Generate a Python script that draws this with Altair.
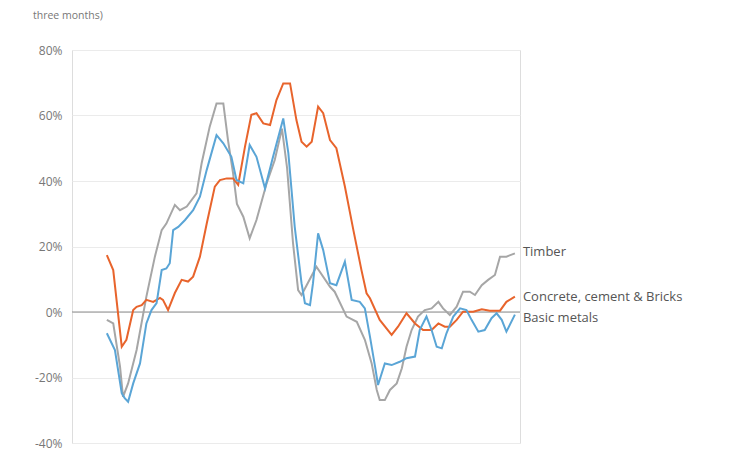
import altair as alt
import pandas as pd

concrete_t = [0, 1.5, 3.5, 4.6, 6.2, 7.0, 8.2, 9.3, 10.9, 12.5, 13.2, 14.4, 16.0, 17.6, 19.1, 20.3,
              21.9, 23.5, 25.4, 26.6, 28.2, 29.7, 30.9, 32.5, 34.0, 35.2, 36.8, 38.4, 39.9, 41.5,
              43.1, 44.6, 45.8, 47.0, 48.2, 49.7, 50.9, 52.5, 54.0, 56.0, 58.0, 59.9, 61.1, 61.9,
              64.2, 67.0, 68.5, 70.5, 72.5, 74.4, 76.4, 78.0, 79.5, 80.7, 82.3, 83.8, 86.2, 88.2,
              90.1, 92.5, 94.0, 96.0]
concrete_v = [17.4, 12.8, -10.6, -8.5, 0.6, 1.6, 2.1, 3.7, 3.1, 4.3, 3.7, 0.6, 5.8, 9.8, 9.3, 10.8,
              16.9, 27.0, 38.3, 40.3, 40.8, 40.8, 38.8, 50.5, 60.2, 60.7, 57.6, 57.1, 64.7, 69.8,
              69.8, 58.6, 52.0, 50.5, 52.0, 62.7, 60.7, 52.5, 50.0, 38.3, 25.0, 12.8, 5.7, 4.2,
              -2.4, -7.0, -4.5, -0.4, -3.5, -5.5, -5.5, -3.5, -4.5, -4.5, -2.4, 0.1, 0.1, 0.8,
              0.4, 0.4, 3.1, 4.7]

metals_t = [0, 1.9, 3.5, 4.2, 5.0, 6.2, 7.8, 9.3, 10.5, 11.7, 12.9, 14.0, 14.8, 15.6, 16.8, 18.4,
            20.3, 21.9, 23.5, 25.8, 27.4, 29.3, 30.5, 32.1, 33.6, 35.2, 37.2, 39.1, 41.5, 42.7,
            44.2, 45.8, 46.6, 47.8, 48.5, 49.7, 50.9, 52.5, 54.0, 56.0, 57.6, 59.5, 60.7, 61.9,
            63.1, 63.8, 65.4, 67.0, 68.9, 70.5, 72.5, 73.6, 75.2, 76.4, 77.6, 78.8, 79.9, 81.5,
            83.1, 84.6, 85.8, 87.4, 88.9, 90.5, 91.7, 92.9, 94.0, 96.0]
metals_v = [-6.5, -11.6, -24.8, -26.3, -27.4, -21.8, -15.7, -3.5, 0.6, 2.7, 12.8, 13.3, 14.9, 25.0,
            26.0, 28.1, 31.1, 35.2, 43.4, 54.0, 51.5, 47.4, 40.3, 39.3, 51.0, 47.4, 37.8, 47.4,
            59.1, 48.5, 26.0, 8.8, 2.7, 2.1, 8.8, 24.0, 18.9, 8.8, 8.2, 15.4, 3.7, 3.1, 1.1,
            -7.5, -16.7, -22.3, -15.7, -16.2, -15.2, -14.1, -13.6, -5.5, -1.4, -5.5, -10.6,
            -11.1, -6.5, -1.4, 1.1, 0.6, -2.4, -6.0, -5.5, -1.9, -0.4, -2.4, -6.0, -0.8]

timber_t = [0, 1.5, 3.1, 3.8, 5.0, 7.0, 9.3, 11.3, 12.9, 14.0, 16.0, 17.2, 18.8, 21.1, 22.3, 24.2,
            25.8, 27.4, 28.5, 29.7, 30.6, 32.1, 33.6, 35.2, 37.6, 39.5, 41.2, 42.4, 43.8, 45.0,
            45.8, 49.3, 52.5, 53.6, 56.4, 58.8, 60.7, 62.3, 63.5, 64.2, 65.4, 66.6, 68.2, 69.4,
            70.5, 71.7, 73.2, 74.8, 76.4, 78.0, 79.1, 80.7, 82.3, 83.8, 85.4, 86.6, 88.2, 89.7,
            91.3, 92.5, 94.0, 96.0]
timber_v = [-2.4, -3.5, -16.7, -25.9, -21.8, -11.6, 4.7, 16.9, 25.0, 27.0, 32.7, 31.1, 32.2, 36.2,
            45.4, 56.6, 63.7, 63.7, 52.5, 42.3, 33.0, 29.1, 22.5, 28.1, 39.3, 46.4, 56.0, 44.0,
            21.0, 6.7, 5.2, 13.8, 7.7, 6.2, -1.4, -3.0, -8.5, -15.7, -23.8, -26.9, -26.9, -23.8,
            -21.8, -17.2, -10.6, -5.5, -1.4, 0.6, 1.1, 3.1, 1.1, -0.9, 1.6, 6.2, 6.2, 5.2, 8.2,
            9.8, 11.3, 16.9, 16.9, 17.9]

series_names = ["Timber", "Concrete, cement & Bricks", "Basic metals"]
series_colors = ["#a6a6a6", "#e8642c", "#5aa5d6"]
label_values = [18.3, 4.6, -1.8]
y_ticks = [-40, -20, 0, 20, 40, 60, 80]
subtitle = "three months)"

rows = []
for name, ts, vs in [("Timber", timber_t, timber_v),
                     ("Concrete, cement & Bricks", concrete_t, concrete_v),
                     ("Basic metals", metals_t, metals_v)]:
    for t, v in zip(ts, vs):
        rows.append({"series": name, "t": t, "value": v})
df = pd.DataFrame(rows)

labels_df = pd.DataFrame({"series": series_names, "t": [96] * 3, "value": label_values})

x_scale = alt.Scale(domain=[-8.2, 97.2], nice=False, zero=False)
y_scale = alt.Scale(domain=[-40, 80], nice=False)
color_scale = alt.Scale(domain=series_names, range=series_colors)

base_y = alt.Y("value:Q", scale=y_scale,
               axis=alt.Axis(values=y_ticks, labelExpr="datum.value + '%'", grid=True,
                             gridColor="#ebebeb", gridWidth=1, domain=False, ticks=False,
                             labelPadding=10, labelFont="Open Sans", labelFontSize=12,
                             labelColor="#777777", title=None))

lines = alt.Chart(df).mark_line(strokeWidth=2, interpolate="linear").encode(
    x=alt.X("t:Q", scale=x_scale, axis=None),
    y=base_y,
    color=alt.Color("series:N", scale=color_scale, legend=None),
    detail="series:N",
)

zero = alt.Chart(pd.DataFrame({"z": [0]})).mark_rule(color="#8c8c8c", strokeWidth=1).encode(
    y=alt.Y("z:Q", scale=y_scale)
)

labels = alt.Chart(labels_df).mark_text(align="left", baseline="middle", dx=8, font="Open Sans",
                                        fontSize=13, color="#555555").encode(
    x=alt.X("t:Q", scale=x_scale),
    y=alt.Y("value:Q", scale=y_scale),
    text="series:N",
)

sub = alt.Chart(pd.DataFrame({"s": [subtitle]})).mark_text(
    align="left", baseline="middle", font="Open Sans", fontSize=10.5, color="#777777"
).encode(x=alt.value(-39), y=alt.value(-34), text="s:N")

chart = alt.layer(zero, lines, labels, sub).properties(
    width=448, height=393,
    autosize=alt.AutoSizeParams(type="none"),
    padding={"left": 64, "top": 42, "right": 200, "bottom": 7},
).configure_view(stroke=None).configure(background="white")

chart.save("out.html", embed_options={"renderer": "svg", "actions": False})
